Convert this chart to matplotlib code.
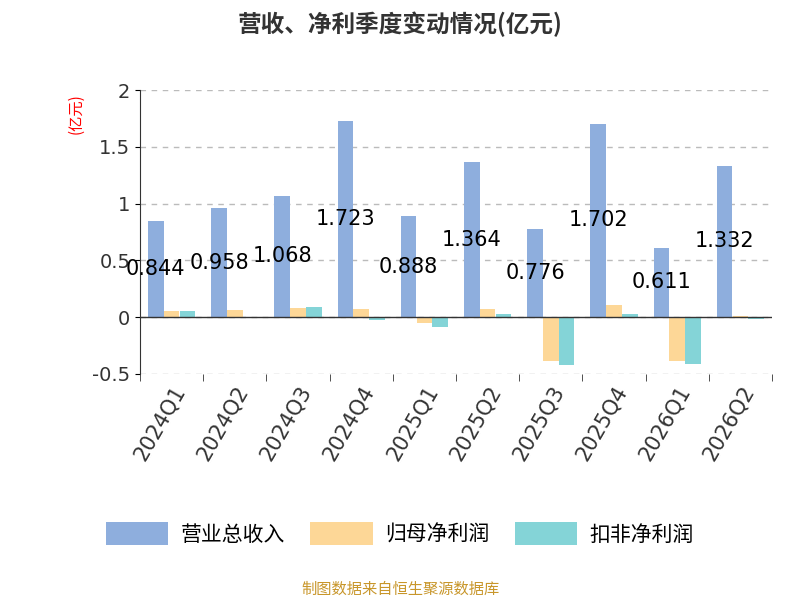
import matplotlib
matplotlib.use("Agg")
import matplotlib.pyplot as plt
import numpy as np

plt.rcParams['font.family'] = ['Noto Sans CJK SC', 'DejaVu Sans']
num_font = ['DejaVu Sans']

quarters = ["2024Q1", "2024Q2", "2024Q3", "2024Q4", "2025Q1", "2025Q2",
            "2025Q3", "2025Q4", "2026Q1", "2026Q2"]
revenue = [0.844, 0.958, 1.068, 1.723, 0.888, 1.364, 0.776, 1.702, 0.611, 1.332]
net_profit = [0.05, 0.06, 0.08, 0.07, -0.05, 0.07, -0.39, 0.11, -0.39, 0.01]
net_profit_deducted = [0.05, 0.0, 0.09, -0.03, -0.09, 0.03, -0.42, 0.03, -0.41, -0.02]

fig = plt.figure(figsize=(8, 6), dpi=100)
ax = fig.add_axes([0.175, 0.377, 0.79, 0.473])

x = np.arange(len(quarters))
w = 0.25
ax.bar(x - w, revenue, w * 0.98, color="#8eaedd", label="营业总收入")
ax.bar(x, net_profit, w * 0.98, color="#fdd797", label="归母净利润")
ax.bar(x + w, net_profit_deducted, w * 0.98, color="#84d4d7", label="扣非净利润")

for xi, v in zip(x, revenue):
    ax.text(xi - w, v / 2, f"{v:g}", ha="center", va="center", fontsize=15,
            color="black", family=num_font)

ax.set_xlim(-0.5, len(quarters) - 0.5)
ax.set_ylim(-0.5, 2)
ax.set_yticks([-0.5, 0, 0.5, 1, 1.5, 2])
ax.set_yticklabels(["-0.5", "0", "0.5", "1", "1.5", "2"], fontsize=14,
                   color="#333333", family=num_font)
ax.set_xticks(x)
ax.set_xticklabels(quarters, rotation=60, ha="right", rotation_mode="anchor",
                   fontsize=15, color="#333333", family=num_font)
ax.grid(axis="y", linestyle=(0, (4, 4)), color="#bbbbbb", linewidth=1)
ax.set_axisbelow(True)
for s in ["top", "right", "bottom"]:
    ax.spines[s].set_visible(False)
ax.spines["left"].set_color("#333333")
ax.axhline(0, color="#333333", linewidth=1)
ax.set_xticks(np.arange(len(quarters) + 1) - 0.5, minor=True)
ax.tick_params(axis="x", which="minor", length=5, color="#333333")
ax.tick_params(axis="x", which="major", length=0, pad=6)

fig.text(0.5, 0.96, "营收、净利季度变动情况(亿元)", ha="center", va="center",
         fontsize=17, fontweight="bold", color="#333333")
fig.text(0.095, 0.81, "(亿元)", rotation=90, ha="center", va="center", fontsize=11, color="red")
fig.legend(loc="center", bbox_to_anchor=(0.5, 0.11), ncol=3, frameon=False,
           fontsize=15, handlelength=3.0, handleheight=1.3, columnspacing=1.2,
           handletextpad=0.6)
fig.text(0.5, 0.018, "制图数据来自恒生聚源数据库", ha="center", va="center",
         fontsize=11, color="#c8962a")

fig.savefig("out.png")
